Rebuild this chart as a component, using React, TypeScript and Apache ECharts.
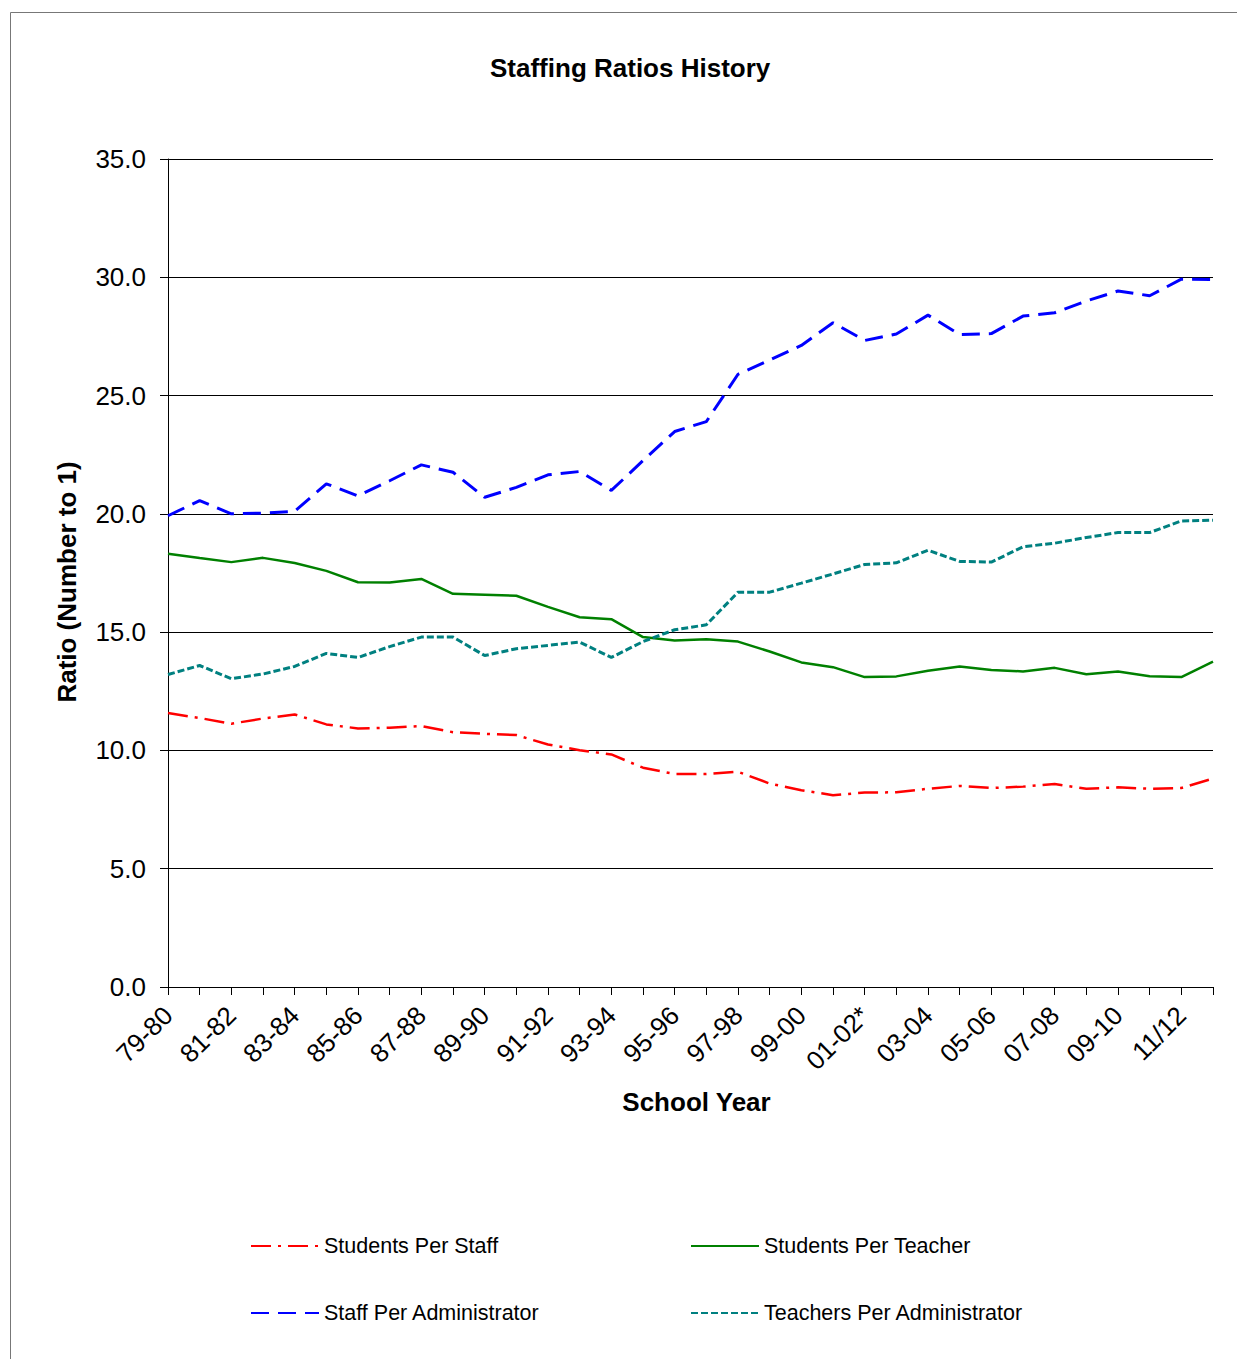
import React, { useEffect, useRef } from "react";
import * as echarts from "echarts";

const categories = [
  "79-80", "80-81", "81-82", "82-83", "83-84", "84-85", "85-86", "86-87", "87-88", "88-89",
  "89-90", "90-91", "91-92", "92-93", "93-94", "94-95", "95-96", "96-97", "97-98", "98-99",
  "99-00", "00-01", "01-02*", "02-03", "03-04", "04-05", "05-06", "06-07", "07-08", "08-09",
  "09-10", "10-11", "11/12", "12/13",
];

const studentsPerStaff = [
  11.58, 11.37, 11.13, 11.35, 11.52, 11.1, 10.93, 10.96, 11.03, 10.77,
  10.7, 10.65, 10.25, 10.01, 9.83, 9.27, 9.0, 9.0, 9.1, 8.6,
  8.32, 8.11, 8.22, 8.23, 8.38, 8.5, 8.41, 8.47, 8.58, 8.38,
  8.44, 8.38, 8.41, 8.81,
];

const studentsPerTeacher = [
  18.31, 18.13, 17.96, 18.14, 17.92, 17.59, 17.11, 17.1, 17.25, 16.62,
  16.58, 16.54, 16.07, 15.63, 15.55, 14.79, 14.65, 14.7, 14.6, 14.18,
  13.72, 13.52, 13.1, 13.13, 13.37, 13.55, 13.4, 13.34, 13.49, 13.22,
  13.34, 13.14, 13.1, 13.75,
];

const staffPerAdministrator = [
  19.92, 20.56, 20.0, 20.03, 20.11, 21.27, 20.76, 21.4, 22.07, 21.76,
  20.7, 21.12, 21.65, 21.79, 20.99, 22.25, 23.48, 23.9, 25.9, 26.5,
  27.12, 28.08, 27.33, 27.6, 28.4, 27.58, 27.62, 28.36, 28.5, 29.0,
  29.42, 29.22, 29.92, 29.9,
];

const teachersPerAdministrator = [
  13.21, 13.59, 13.03, 13.23, 13.55, 14.1, 13.93, 14.39, 14.79, 14.79,
  14.01, 14.3, 14.44, 14.58, 13.93, 14.6, 15.1, 15.31, 16.69, 16.69,
  17.07, 17.46, 17.86, 17.93, 18.46, 17.99, 17.96, 18.61, 18.76, 19.0,
  19.21, 19.21, 19.7, 19.73,
];

const seriesNames = [
  "Students Per Staff",
  "Students Per Teacher",
  "Staff Per Administrator",
  "Teachers Per Administrator",
];

const FONT = "'Liberation Sans', Arial, Helvetica, sans-serif";

export default function App() {
  const ref = useRef<HTMLDivElement>(null);

  useEffect(() => {
    document.body.style.margin = "0";
    if (!ref.current) return;
    const chart = echarts.init(ref.current, null, { renderer: "svg" });

    const legendBase = {
      orient: "horizontal",
      padding: 0,
      itemWidth: 68,
      itemHeight: 14,
      itemGap: 7,
      selectedMode: false,
      itemStyle: { opacity: 0 },
      textStyle: { fontFamily: FONT, fontSize: 21.5, color: "#000" },
    };

    const option = {
      animation: false,
      backgroundColor: "#ffffff",
      title: {
        text: "Staffing Ratios History",
        left: 490,
        top: 55,
        padding: 0,
        textStyle: { fontFamily: FONT, fontSize: 26, fontWeight: "bold", color: "#000" },
      },
      graphic: [
        {
          type: "rect",
          shape: { x: 10.5, y: 12.5, width: 1240, height: 1360 },
          style: { fill: "none", stroke: "#777", lineWidth: 1 },
          silent: true,
        },
      ],
      legend: [
        { ...legendBase, left: 250, top: 1235, data: [seriesNames[0]] },
        { ...legendBase, left: 690, top: 1235, data: [seriesNames[1]] },
        { ...legendBase, left: 250, top: 1302, data: [seriesNames[2]] },
        { ...legendBase, left: 690, top: 1302, data: [seriesNames[3]] },
      ],
      grid: { left: 168, right: 24, top: 159, bottom: 372, containLabel: false },
      xAxis: {
        type: "category",
        data: categories,
        boundaryGap: false,
        name: "School Year",
        nameLocation: "middle",
        nameGap: 102,
        nameTextStyle: { fontFamily: FONT, fontSize: 26, fontWeight: "bold", color: "#000", padding: [0, 0, 0, 12] },
        axisLine: { show: true, lineStyle: { color: "#000", width: 1 } },
        axisTick: { show: true, interval: 0, length: 8, lineStyle: { color: "#000" } },
        axisLabel: {
          interval: 1,
          rotate: 45,
          margin: 24,
          fontFamily: FONT,
          fontSize: 26,
          color: "#000",
        },
        splitLine: { show: false },
      },
      yAxis: {
        type: "value",
        min: 0,
        max: 35,
        interval: 5,
        name: "Ratio (Number to 1)",
        nameLocation: "middle",
        nameGap: 88,
        nameTextStyle: { fontFamily: FONT, fontSize: 26, fontWeight: "bold", color: "#000", padding: [0, 18, 0, 0] },
        axisLine: { show: true, lineStyle: { color: "#000", width: 1 } },
        axisTick: { show: true, length: 8, lineStyle: { color: "#000" } },
        axisLabel: {
          margin: 22,
          fontFamily: FONT,
          fontSize: 26,
          color: "#000",
          formatter: (v: number) => v.toFixed(1),
        },
        splitLine: { show: true, lineStyle: { color: "#000", width: 1 } },
      },
      series: [
        {
          name: seriesNames[0],
          type: "line",
          data: studentsPerStaff,
          symbol: "none",
          color: "#ff0000",
          lineStyle: { color: "#ff0000", width: 2.5, type: [20, 7, 3, 7] },
        },
        {
          name: seriesNames[1],
          type: "line",
          data: studentsPerTeacher,
          symbol: "none",
          color: "#008000",
          lineStyle: { color: "#008000", width: 2.5, type: "solid" },
        },
        {
          name: seriesNames[2],
          type: "line",
          data: staffPerAdministrator,
          symbol: "none",
          color: "#0000ff",
          lineStyle: { color: "#0000ff", width: 3, type: [18, 9] },
        },
        {
          name: seriesNames[3],
          type: "line",
          data: teachersPerAdministrator,
          symbol: "none",
          color: "#008080",
          lineStyle: { color: "#008080", width: 3, type: [7, 3] },
        },
      ],
    };

    chart.setOption(option as any);
    return () => chart.dispose();
  }, []);

  return <div ref={ref} style={{ width: 1237, height: 1359 }} />;
}
